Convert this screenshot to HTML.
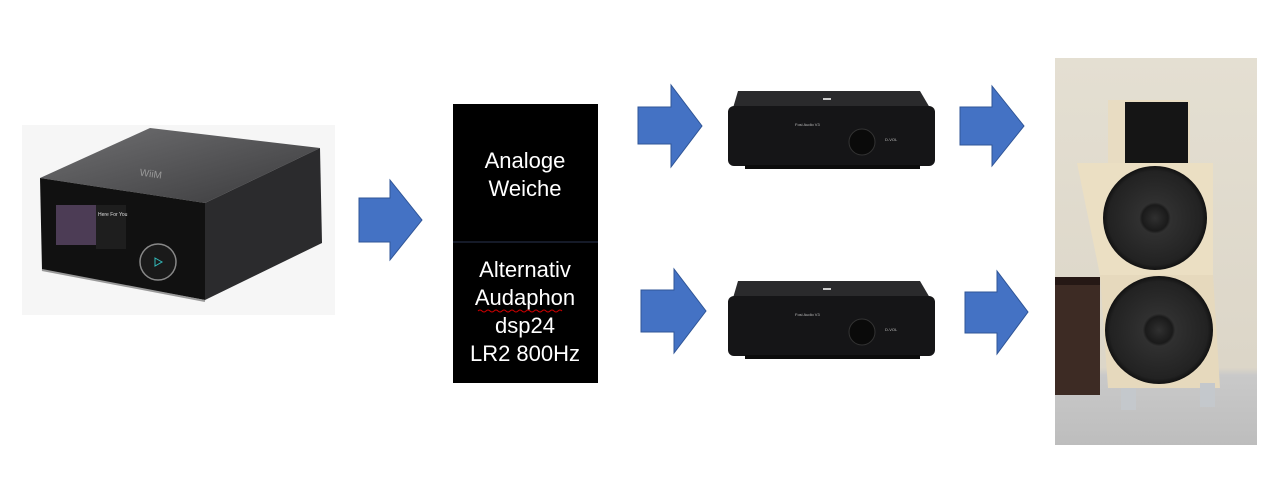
<!DOCTYPE html>
<html><head><meta charset="utf-8"><style>
html,body{margin:0;padding:0;background:#fff;width:1274px;height:489px;overflow:hidden}
svg{display:block}
</style></head><body>
<svg width="1274" height="489" viewBox="0 0 1274 489" xmlns="http://www.w3.org/2000/svg">
<defs>
<linearGradient id="top" x1="0" y1="0" x2="1" y2="1"><stop offset="0" stop-color="#707072"/><stop offset="1" stop-color="#3a3a3c"/></linearGradient>
<linearGradient id="wall" x1="0" y1="0" x2="0" y2="1"><stop offset="0" stop-color="#e4dfd2"/><stop offset="0.8" stop-color="#dcd6c8"/><stop offset="0.82" stop-color="#c9c9c9"/><stop offset="1" stop-color="#bdbdbd"/></linearGradient>
<radialGradient id="cone"><stop offset="0" stop-color="#303030"/><stop offset="0.25" stop-color="#1a1a1a"/><stop offset="0.3" stop-color="#303030"/><stop offset="0.9" stop-color="#222"/><stop offset="1" stop-color="#111"/></radialGradient>
</defs>
<!-- source device -->
<rect x="22" y="125" width="313" height="190" fill="#f6f6f6"/>
<polygon points="40,178 150,128 320,148 205,203" fill="url(#top)"/>
<polygon points="40,178 205,203 205,300 42,270" fill="#111"/>
<polygon points="205,203 320,148 322,243 205,300" fill="#2b2b2d"/>
<line x1="42" y1="270" x2="205" y2="301" stroke="#999" stroke-width="2"/>
<rect x="56" y="205" width="40" height="40" fill="#4c3c55"/>
<rect x="96" y="205" width="30" height="44" fill="#1e1e1e"/>
<text x="98" y="216" font-family="Liberation Sans" font-size="5" fill="#ddd">Here For You</text>
<circle cx="158" cy="262" r="18" fill="#1a1a1a" stroke="#888" stroke-width="1.5"/>
<polygon points="155,258 162,262 155,266" fill="none" stroke="#3bb" stroke-width="1"/>
<text x="140" y="177" font-family="Liberation Sans" font-size="10" fill="#999" transform="rotate(8 150 172)">WiiM</text>
<!-- arrows -->
<g fill="#4472C4" stroke="#2f5597" stroke-width="1">
<polygon points="359,198 390,198 390,180 422,220 390,260 390,242 359,242"/>
<polygon points="638,107 671,107 671,85 702,126 671,167 671,144 638,144"/>
<polygon points="641,290 674,290 674,269 706,311 674,353 674,332 641,332"/>
<polygon points="960,107 992,107 992,86 1024,126 992,166 992,145 960,145"/>
<polygon points="965,292 997,292 997,271 1028,312 997,354 997,333 965,333"/>
</g>
<!-- crossover box -->
<rect x="453" y="104" width="145" height="279" fill="#000"/>
<line x1="453" y1="242" x2="598" y2="242" stroke="#2a3550" stroke-width="1"/>
<g font-family="Liberation Sans, sans-serif" font-size="22" fill="#fff" text-anchor="middle">
<text x="525" y="168">Analoge</text>
<text x="525" y="196">Weiche</text>
<text x="525" y="277">Alternativ</text>
<text x="525" y="305">Audaphon</text>
<text x="525" y="333">dsp24</text>
<text x="525" y="361">LR2 800Hz</text>
</g>
<path d="M478,311 q2,-2 4,0 t4,0 t4,0 t4,0 t4,0 t4,0 t4,0 t4,0 t4,0 t4,0 t4,0 t4,0 t4,0 t4,0 t4,0 t4,0 t4,0 t4,0 t4,0 t4,0 t4,0" fill="none" stroke="#c00" stroke-width="1"/>
<!-- amps -->
<g id="amp">
<polygon points="733,108 738,91 920,91 930,108" fill="#2a2a2c"/>
<rect x="728" y="106" width="207" height="60" rx="6" fill="#151517"/>
<rect x="745" y="165" width="175" height="4" fill="#0c0c0c"/>
<circle cx="862" cy="142" r="13" fill="#0a0a0a" stroke="#333"/>
<rect x="823" y="98" width="8" height="2" fill="#ccc"/>
<text x="795" y="126" font-family="Liberation Sans" font-size="4" fill="#bbb">Fosi Audio V3</text>
<text x="885" y="141" font-family="Liberation Sans" font-size="4" fill="#bbb">D-VOL</text>
</g>
<use href="#amp" transform="translate(0,190)"/>
<!-- speaker photo -->
<rect x="1055" y="58" width="202" height="387" fill="url(#wall)"/>
<rect x="1055" y="277" width="45" height="118" fill="#3d2b24"/>
<rect x="1055" y="277" width="45" height="8" fill="#251815"/>
<rect x="1108" y="100" width="82" height="65" fill="#e8dcc2"/>
<rect x="1125" y="102" width="63" height="63" fill="#151515"/>
<polygon points="1077,163 1213,163 1213,275 1100,275" fill="#ebdfc3"/>
<polygon points="1100,275 1213,275 1220,388 1108,388" fill="#e6d9bd"/>
<circle cx="1155" cy="218" r="52" fill="url(#cone)"/>
<circle cx="1159" cy="330" r="54" fill="url(#cone)"/>
<rect x="1121" y="388" width="15" height="22" fill="#c4c8cc"/>
<rect x="1200" y="383" width="15" height="24" fill="#c4c8cc"/>
</svg>
</body></html>
